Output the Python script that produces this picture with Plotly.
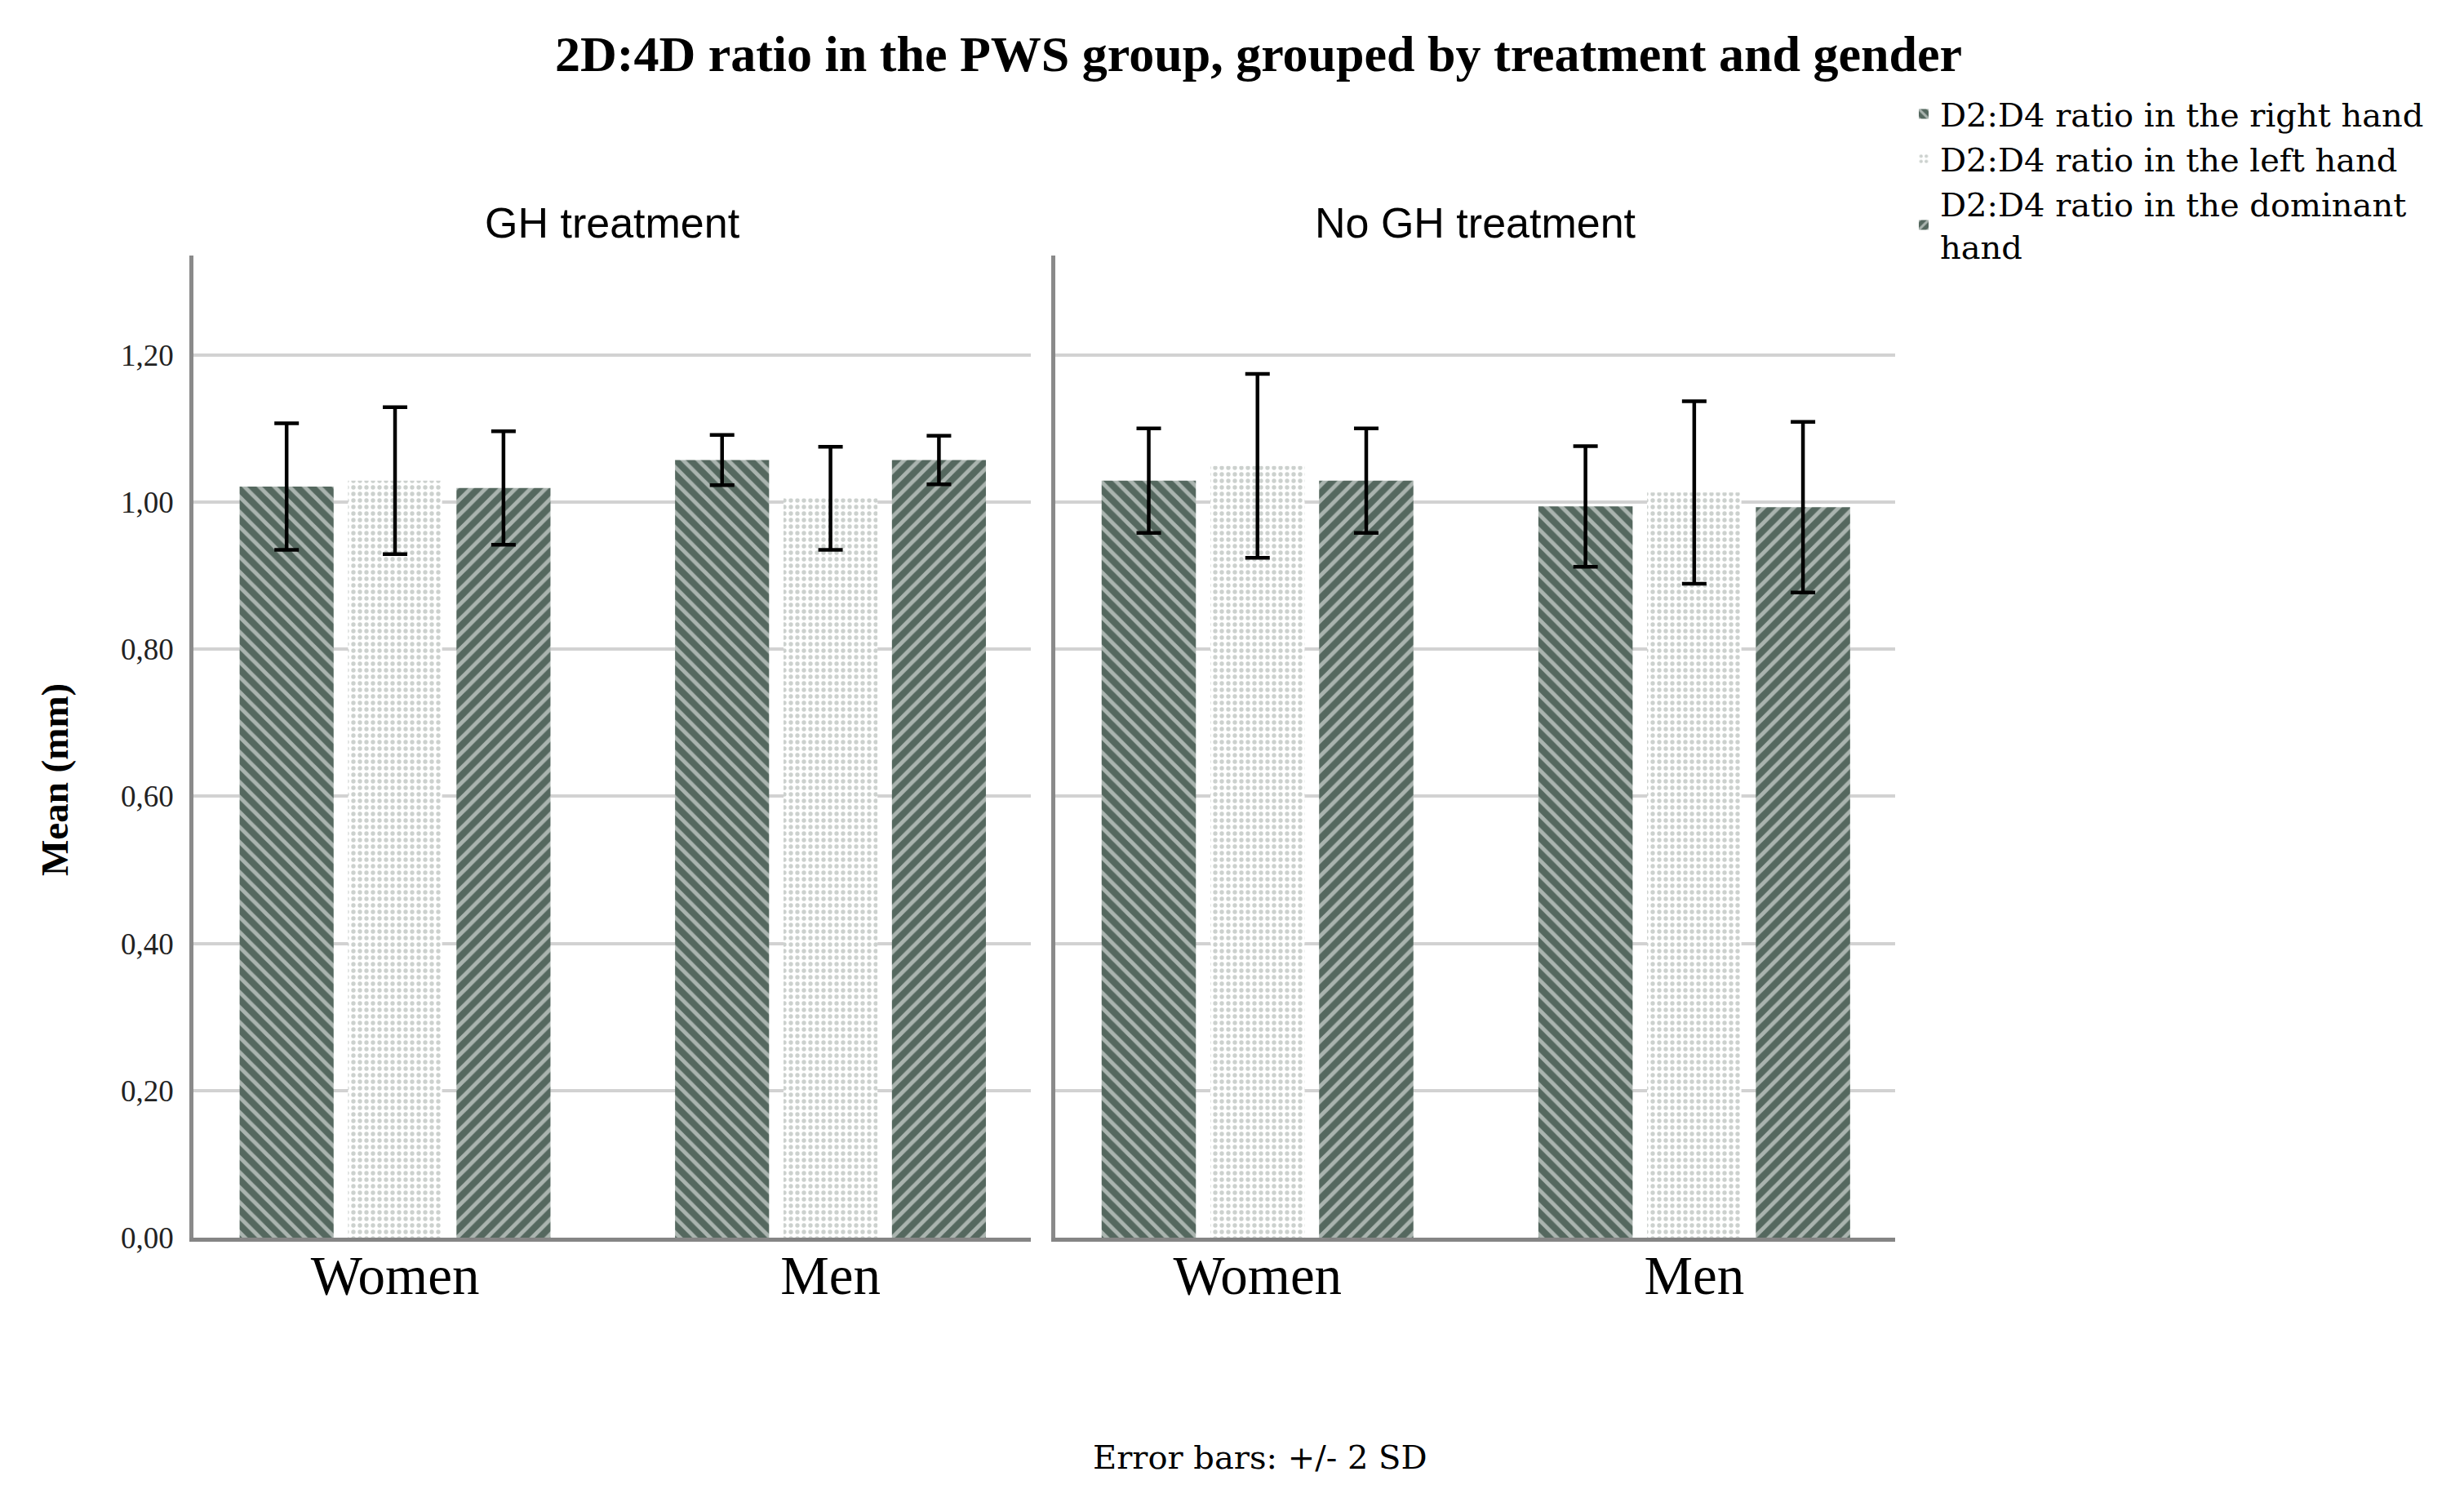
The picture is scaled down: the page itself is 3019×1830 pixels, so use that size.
import plotly.graph_objects as go

# ---- data ----
genders = ["Women", "Men"]
panel_titles = ["GH treatment", "No GH treatment"]
series_names = ["D2:D4 ratio in the right hand",
                "D2:D4 ratio in the left hand",
                "D2:D4 ratio in the dominant<br>hand"]

right_gh = [1.021, 1.057]
right_nogh = [1.029, 0.994]
left_gh = [1.029, 1.005]
left_nogh = [1.049, 1.013]
dom_gh = [1.019, 1.057]
dom_nogh = [1.029, 0.993]

right_gh_err = [0.086, 0.034]
right_nogh_err = [0.071, 0.082]
left_gh_err = [0.100, 0.070]
left_nogh_err = [0.125, 0.124]
dom_gh_err = [0.077, 0.033]
dom_nogh_err = [0.071, 0.116]

y_ticks = [0, 0.2, 0.4, 0.6, 0.8, 1.0, 1.2]

# ---- layout helpers (screen pixels -> paper coords, page has 8px body margin) ----
W, H = 3019, 1830
M = 8
FW, FH = W - 2 * M, H - 2 * M


def px_x(x):
    return (x - M) / FW


def px_y(y):
    return 1 - (y - M) / FH


DARK = "#55685f"
SERIF = "Liberation Serif, Times New Roman, serif"
SERIF_WIDE = "DejaVu Serif, serif"
SANS = "Liberation Sans, Arial, sans-serif"

patterns = [
    dict(shape="\\", fgcolor="white", bgcolor=DARK, size=13, solidity=0.38),
    dict(shape=".", fgcolor="#9aa39e", bgcolor="white", size=8, solidity=0.35),
    dict(shape="/", fgcolor="white", bgcolor=DARK, size=13, solidity=0.38),
]

panels = [
    ([right_gh, left_gh, dom_gh], [right_gh_err, left_gh_err, dom_gh_err], "x", "y"),
    ([right_nogh, left_nogh, dom_nogh], [right_nogh_err, left_nogh_err, dom_nogh_err], "x2", "y2"),
]

fig = go.Figure()
for p, (vals, errs, xa, ya) in enumerate(panels):
    for s in range(3):
        fig.add_trace(go.Bar(
            x=genders, y=vals[s], name=series_names[s],
            xaxis=xa, yaxis=ya,
            legendgroup=str(s), showlegend=(p == 0),
            marker=dict(color=patterns[s]["bgcolor"], line=dict(width=0),
                        pattern=patterns[s]),
            error_y=dict(type="data", array=errs[s], visible=True,
                         color="black", thickness=4.5, width=15),
        ))

xd1 = [px_x(237), px_x(1263)]
xd2 = [px_x(1293), px_x(2322)]
yd = [px_y(1516), px_y(313)]

xaxis_common = dict(showline=True, linecolor="#858585", linewidth=5,
                    ticks="", showgrid=False, zeroline=False,
                    range=[-0.463, 1.46],
                    tickfont=dict(family=SERIF, size=67, color="black"),
                    ticklabelstandoff=-16,
                    automargin=False)
yaxis_common = dict(range=[0, 1.335], showline=True, linecolor="#8a8a8a",
                    linewidth=4.5, showgrid=True, gridcolor="#d2d2d2",
                    gridwidth=3.5, zeroline=False, tickvals=y_ticks,
                    tickformat=".2f", ticks="",
                    automargin=False)

fig.update_layout(
    width=FW, height=FH,
    margin=dict(l=0, r=0, t=0, b=0),
    plot_bgcolor="white", paper_bgcolor="white",
    separators=",.",
    barmode="group", bargap=0.253, bargroupgap=0.133,
    xaxis=dict(domain=xd1, anchor="y", **xaxis_common),
    xaxis2=dict(domain=xd2, anchor="y2", **xaxis_common),
    yaxis=dict(domain=yd, anchor="x", ticklabelstandoff=12,
               tickfont=dict(family=SERIF, size=37, color="#222"),
               **yaxis_common),
    yaxis2=dict(domain=yd, anchor="x2", showticklabels=False, **yaxis_common),
    legend=dict(x=px_x(2337), y=px_y(107), xanchor="left", yanchor="top",
                font=dict(family=SERIF_WIDE, size=40, color="black"),
                traceorder="normal", tracegroupgap=0,
                bgcolor="rgba(0,0,0,0)", itemwidth=30),
    showlegend=True,
)

annotations = [
    dict(text="<b>2D:4D ratio in the PWS group, grouped by treatment and gender</b>",
         x=px_x(1542), y=px_y(66), xanchor="center", yanchor="middle",
         font=dict(family=SERIF, size=62, color="black")),
    dict(text=panel_titles[0], x=(xd1[0] + xd1[1]) / 2, y=px_y(273),
         xanchor="center", yanchor="middle",
         font=dict(family=SANS, size=52, color="black")),
    dict(text=panel_titles[1], x=(xd2[0] + xd2[1]) / 2, y=px_y(273),
         xanchor="center", yanchor="middle",
         font=dict(family=SANS, size=52, color="black")),
    dict(text="<b>Mean (mm)</b>", x=px_x(67), y=px_y(955),
         xanchor="center", yanchor="middle", textangle=-90,
         font=dict(family=SERIF, size=47, color="black")),
    dict(text="Error bars: +/- 2 SD", x=px_x(1544), y=px_y(1785),
         xanchor="center", yanchor="middle",
         font=dict(family=SERIF_WIDE, size=40, color="black")),
]
for a in annotations:
    a.update(xref="paper", yref="paper", showarrow=False)
fig.update_layout(annotations=annotations)

fig.write_html("out.html")
